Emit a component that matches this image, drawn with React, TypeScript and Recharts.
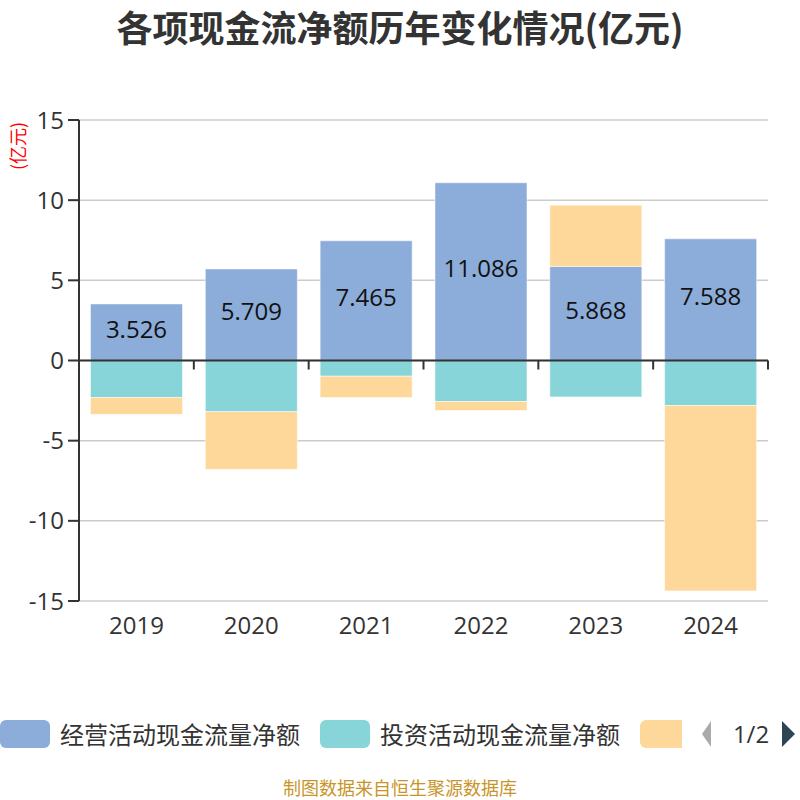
import React from "react";
import {
  BarChart,
  Bar,
  XAxis,
  YAxis,
  CartesianGrid,
  ReferenceLine,
  LabelList,
} from "recharts";

const years = ["2019", "2020", "2021", "2022", "2023", "2024"];
const operating = [3.526, 5.709, 7.465, 11.086, 5.868, 7.588];
const investing = [-2.31, -3.19, -0.98, -2.56, -2.27, -2.81];
const financing = [-1.05, -3.6, -1.33, -0.56, 3.82, -11.56];
const yTicks = [-15, -10, -5, 0, 5, 10, 15];

// only the first two names fit on legend page 1/2
const legendNames = ["经营活动现金流量净额", "投资活动现金流量净额", ""];
const COLORS = ["#8cacd9", "#87d5d8", "#fed89a"];

const FONT = '"Noto Sans CJK SC", "Noto Sans", sans-serif';
const NUM_FONT = '"Open Sans", "Noto Sans CJK SC", sans-serif';

const data = years.map((year, i) => ({
  year,
  operating: operating[i],
  investing: investing[i],
  financing: financing[i],
}));

// zero line with small ticks between the categories
function ZeroLine(props: any) {
  const { x1, y1, x2, y2 } = props;
  const n = years.length;
  const step = (x2 - x1) / n;
  const ticks = [];
  for (let i = 1; i <= n; i++) {
    const x = x1 + step * i;
    ticks.push(<line key={i} x1={x} y1={y1} x2={x} y2={y1 + 9} stroke="#333" strokeWidth={2} />);
  }
  return (
    <g>
      <line x1={x1} y1={y1} x2={x2} y2={y2} stroke="#333" strokeWidth={2} />
      {ticks}
    </g>
  );
}

function Legend() {
  const items = legendNames.map((name, i) => ({ name, color: COLORS[i] }));
  return (
    <div
      style={{
        position: "absolute",
        top: 714,
        left: 0,
        width: 800,
        height: 40,
        fontFamily: FONT,
      }}
    >
      <div
        style={{
          position: "absolute",
          left: 0,
          top: 0,
          width: 682,
          height: 40,
          overflow: "hidden",
          whiteSpace: "nowrap",
          display: "flex",
          alignItems: "center",
        }}
      >
        {items.map((it, i) => (
          <span key={i} style={{ display: "inline-flex", alignItems: "center", marginRight: 20, flexShrink: 0 }}>
            <span style={{ display: "inline-block", width: 50, height: 28, borderRadius: 6, background: it.color }} />
            {it.name ? (
              <span style={{ marginLeft: 10, fontSize: 24, color: "#333", lineHeight: "32px" }}>{it.name}</span>
            ) : null}
          </span>
        ))}
      </div>
      <svg style={{ position: "absolute", left: 700, top: 0 }} width={99} height={40}>
        <polygon points="11,7 11,33 2,20" fill="#aaa" />
        <text x={51} y={29} textAnchor="middle" fontSize={24} fill="#333" fontFamily={NUM_FONT}>
          1/2
        </text>
        <polygon points="82,7 82,33 95,20" fill="#2f4554" />
      </svg>
    </div>
  );
}

export default function App() {
  return (
    <div style={{ position: "relative", width: 800, height: 800, background: "#fff", fontFamily: FONT }}>
      <style>{`body{margin:0}`}</style>
      <div
        style={{
          position: "absolute",
          top: 1,
          left: 0,
          width: 800,
          textAlign: "center",
          fontSize: 36,
          lineHeight: "50px",
          fontWeight: 700,
          color: "#333",
        }}
      >
        各项现金流净额历年变化情况(亿元)
      </div>
      <div
        style={{
          position: "absolute",
          left: 17,
          top: 146,
          transform: "translate(-50%, -50%) rotate(-90deg)",
          fontSize: 18,
          color: "#ff0000",
          whiteSpace: "nowrap",
        }}
      >
        (亿元)
      </div>
      <BarChart
        width={800}
        height={660}
        data={data}
        stackOffset="sign"
        barCategoryGap="10%"
        margin={{ top: 120, right: 32, left: 0, bottom: 19 }}
      >
        <CartesianGrid vertical={false} stroke="#cccccc" strokeWidth={1.5} />
        <XAxis
          dataKey="year"
          axisLine={false}
          tickLine={false}
          height={40}
          tickMargin={10}
          tick={{ fontSize: 24, fill: "#333", fontFamily: NUM_FONT }}
        />
        <YAxis
          width={79}
          domain={[-15, 15]}
          ticks={yTicks}
          interval={0}
          axisLine={{ stroke: "#333", strokeWidth: 2 }}
          tickLine={{ stroke: "#333", strokeWidth: 2 }}
          tickSize={11}
          tickMargin={4}
          tick={{ fontSize: 24, fill: "#333", fontFamily: NUM_FONT }}
        />
        <ReferenceLine y={0} shape={ZeroLine} />
        <Bar dataKey="operating" stackId="a" fill={COLORS[0]} stroke="rgba(255,255,255,0.5)" isAnimationActive={false}>
          <LabelList
            dataKey="operating"
            position="center"
            fill="#111"
            fontSize={24}
            fontFamily={NUM_FONT}
            dy={-3}
            formatter={(v: any) => Number(v).toFixed(3)}
          />
        </Bar>
        <Bar dataKey="investing" stackId="a" fill={COLORS[1]} stroke="rgba(255,255,255,0.5)" isAnimationActive={false} />
        <Bar dataKey="financing" stackId="a" fill={COLORS[2]} stroke="rgba(255,255,255,0.5)" isAnimationActive={false} />
      </BarChart>
      <Legend />
      <div
        style={{
          position: "absolute",
          top: 777,
          left: 0,
          width: 800,
          textAlign: "center",
          fontSize: 18,
          lineHeight: "20px",
          color: "#c8952a",
        }}
      >
        制图数据来自恒生聚源数据库
      </div>
    </div>
  );
}
